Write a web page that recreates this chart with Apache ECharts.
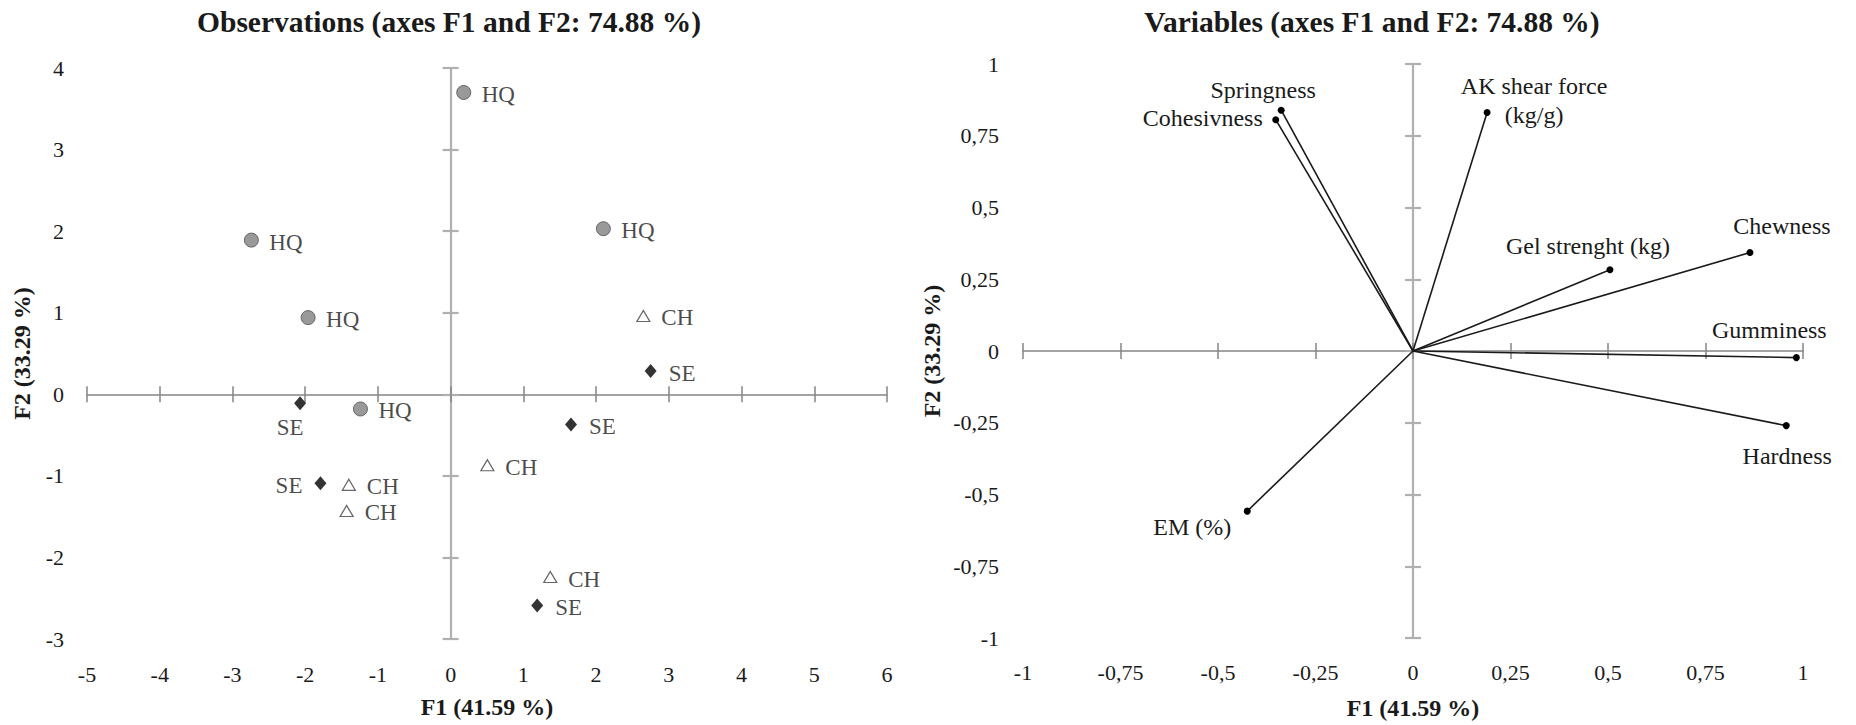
<!DOCTYPE html>
<html>
<head>
<meta charset="utf-8">
<script src="https://cdn.jsdelivr.net/npm/echarts@6/dist/echarts.min.js"></script>
<style>
  html, body { margin: 0; padding: 0; background: #ffffff; }
  #chart { width: 1856px; height: 725px; }
</style>
</head>
<body>
<div id="chart"></div>
<script>
// ---- Observations: sample scores on F1 / F2 ----
const obsGroups = ['HQ', 'HQ', 'HQ', 'HQ', 'HQ',
                   'CH', 'CH', 'CH', 'CH', 'CH',
                   'SE', 'SE', 'SE', 'SE', 'SE'];
const obsF1 = [0.18, 2.10, -2.74, -1.96, -1.24,
               2.65, 0.505, -1.40, -1.43, 1.37,
               2.75, 1.655, -2.07, -1.79, 1.19];
const obsF2 = [3.70, 2.03, 1.89, 0.94, -0.18,
               0.96, -0.87, -1.11, -1.43, -2.24,
               0.285, -0.37, -0.11, -1.09, -2.59];

// ---- Variables: loadings on F1 / F2 ----
const varNames = ['Springness', 'Cohesivness', 'AK shear force\n(kg/g)', 'Gel strenght (kg)',
                  'Chewness', 'Gumminess', 'Hardness', 'EM (%)'];
const varF1 = [-0.338, -0.352, 0.19, 0.505, 0.864, 0.983, 0.957, -0.425];
const varF2 = [0.839, 0.806, 0.831, 0.283, 0.343, -0.023, -0.26, -0.558];

// ---- Axis ranges (tick labels follow from min / max / step) ----
const obsAxisF1 = { min: -5, max: 6, step: 1 };
const obsAxisF2 = { min: -3, max: 4, step: 1 };
const varAxisF1 = { min: -1, max: 1, step: 0.25 };
const varAxisF2 = { min: -1, max: 1, step: 0.25 };

const titleObs = 'Observations (axes F1 and F2: 74.88 %)';
const titleVar = 'Variables (axes F1 and F2: 74.88 %)';
const nameF1 = 'F1 (41.59 %)';
const nameF2 = 'F2 (33.29 %)';

// ---- Styling ----
const SERIF = '"Liberation Serif", "Times New Roman", serif';
const INK = '#1a1a1a';
const X_LINE = { color: '#858585', width: 1.5 };
const Y_LINE = { color: '#b0b0b0', width: 2.2 };
const TICK_LEN = 8;

// Label placement around observation markers (text anchor offset from marker centre)
const obsLabelPlacement = {
  default: { align: 'left', offset: [18, 2] },
  12: { align: 'center', offset: [-10, 24] },
  13: { align: 'right', offset: [-18, 2] }
};
// Label placement around variable end points
const varLabelPlacement = [
  { align: 'center', offset: [-18, -20] },
  { align: 'right', offset: [-13, -2] },
  { align: 'center', offset: [47, -12] },
  { align: 'center', offset: [-22, -24] },
  { align: 'center', offset: [32, -27] },
  { align: 'center', offset: [-27, -28] },
  { align: 'center', offset: [1, 30] },
  { align: 'right', offset: [-16, 16] }
];

const commaFmt = v => String(v).replace('.', ',');

// Builds the three axes of one dimension for a grid:
// main line with outward ticks, an overlay with inward ticks, and a label axis at the edge.
function axesFor(dim, gridIndex, range, otherMainIndex, line, labelOpts) {
  const base = {
    type: 'value', gridIndex: gridIndex,
    min: range.min, max: range.max, interval: range.step,
    splitLine: { show: false }
  };
  const pos = dim === 'x' ? 'bottom' : 'left';
  const main = Object.assign({}, base, {
    position: pos,
    axisLine: { show: true, onZero: true, onZeroAxisIndex: otherMainIndex, lineStyle: line },
    axisTick: { show: true, inside: false, length: TICK_LEN, lineStyle: line },
    axisLabel: { show: false }
  });
  const inner = Object.assign({}, base, {
    position: pos,
    axisLine: { show: true, onZero: true, onZeroAxisIndex: otherMainIndex,
                lineStyle: Object.assign({}, line, { opacity: 0 }) },
    axisTick: { show: true, inside: true, length: TICK_LEN, lineStyle: line },
    axisLabel: { show: false }
  });
  const labels = Object.assign({}, base, {
    position: pos,
    axisLine: { show: false, onZero: false },
    axisTick: { show: false },
    axisLabel: Object.assign({
      show: true, fontFamily: SERIF, fontSize: 22, color: INK
    }, labelOpts.label),
    name: labelOpts.name,
    nameLocation: 'middle',
    nameGap: labelOpts.nameGap,
    nameRotate: dim === 'y' ? 90 : 0,
    nameTextStyle: { fontFamily: SERIF, fontSize: 24, fontWeight: 'bold', color: INK }
  });
  return [main, inner, labels];
}

const xAxes = [].concat(
  axesFor('x', 0, obsAxisF1, 0, X_LINE, { name: nameF1, nameGap: 56, label: { margin: 24 } }),
  axesFor('x', 1, varAxisF1, 3, X_LINE, { name: nameF1, nameGap: 58, label: { margin: 23, formatter: commaFmt } })
);
const yAxes = [].concat(
  axesFor('y', 0, obsAxisF2, 0, Y_LINE, { name: nameF2, nameGap: 53, label: { margin: 23 } }),
  axesFor('y', 1, varAxisF2, 3, Y_LINE, { name: nameF2, nameGap: 79, label: { margin: 24, formatter: commaFmt } })
);

// Marker look per observation group
const groupStyle = {
  HQ: { symbol: 'circle', symbolSize: 14, itemStyle: { color: '#808080', borderColor: '#4d4d4d', borderWidth: 1 } },
  CH: { symbol: 'triangle', symbolSize: [13, 11], itemStyle: { color: '#ffffff', borderColor: '#404040', borderWidth: 1.2 } },
  SE: { symbol: 'diamond', symbolSize: [12, 14], itemStyle: { color: '#000000' } }
};

const obsSeries = ['HQ', 'CH', 'SE'].map(g => {
  const data = [];
  obsGroups.forEach((grp, i) => {
    if (grp !== g) return;
    const p = obsLabelPlacement[i] || obsLabelPlacement.default;
    data.push({
      value: [obsF1[i], obsF2[i]],
      label: { align: p.align, offset: p.offset }
    });
  });
  return Object.assign({
    type: 'scatter', name: g, xAxisIndex: 0, yAxisIndex: 0,
    data: data,
    label: {
      show: true, position: 'inside', verticalAlign: 'middle',
      formatter: g, fontFamily: SERIF, fontSize: 23, color: INK
    },
    z: 5
  }, groupStyle[g]);
});

const varSeries = varNames.map((nm, i) => {
  const p = varLabelPlacement[i];
  return {
    type: 'line', name: nm, xAxisIndex: 3, yAxisIndex: 3,
    lineStyle: { color: INK, width: 1.6 },
    itemStyle: { color: '#000000' },
    showSymbol: true,
    data: [
      { value: [0, 0], symbol: 'none', label: { show: false } },
      {
        value: [varF1[i], varF2[i]], symbol: 'circle', symbolSize: 7,
        label: {
          show: true, position: 'inside', formatter: nm,
          align: p.align, verticalAlign: 'middle', offset: p.offset,
          fontFamily: SERIF, fontSize: 24, lineHeight: 29, color: INK
        }
      }
    ],
    z: 5
  };
});

const chart = echarts.init(document.getElementById('chart'), null, { renderer: 'svg' });
chart.setOption({
  animation: false,
  backgroundColor: '#ffffff',
  grid: [
    { left: 87, top: 68, width: 800, height: 571 },
    { left: 1023, top: 64, width: 780, height: 578 }
  ],
  xAxis: xAxes,
  yAxis: yAxes,
  graphic: [
    { type: 'text', x: 449, y: 22, style: { text: titleObs, align: 'center', verticalAlign: 'middle',
      font: 'bold 29.5px ' + SERIF, fill: INK } },
    { type: 'text', x: 1372, y: 22, style: { text: titleVar, align: 'center', verticalAlign: 'middle',
      font: 'bold 29.5px ' + SERIF, fill: INK } }
  ],
  series: obsSeries.concat(varSeries)
});
</script>
</body>
</html>
